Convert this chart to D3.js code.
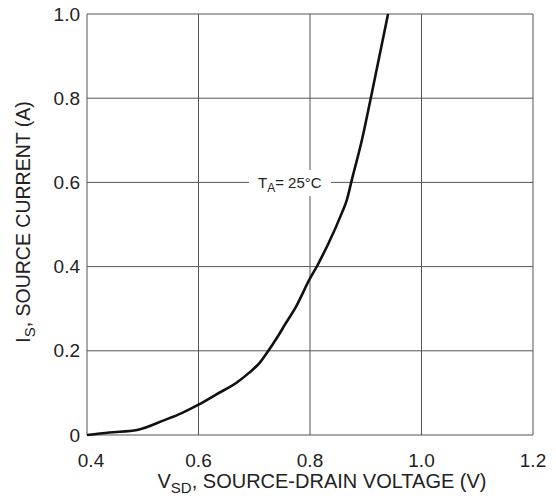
<!DOCTYPE html>
<html lang="en">
<head>
    <meta charset="utf-8">
    <script src="https://cdn.jsdelivr.net/npm/d3@7"></script>
    <style>
        body { margin: 0; background: #fff; }
        text { font-family: "Liberation Sans", Arial, sans-serif; fill: #222; }
        .grid line { stroke: #555; stroke-width: 1; }
        .curve { fill: none; stroke: #111; stroke-width: 2.6; }
    </style>
</head>
<body>
<script>
    // values
    let vsd = [0.4, 0.44, 0.49, 0.54, 0.57, 0.6, 0.63, 0.67, 0.69, 0.71, 0.72, 0.745, 0.755,
        0.775, 0.8, 0.813, 0.823, 0.832, 0.857, 0.866, 0.875, 0.893, 0.909, 0.94];
    let isrc = [0, 0.006, 0.012, 0.036, 0.052, 0.072, 0.095, 0.126, 0.147, 0.172, 0.19, 0.24, 0.262,
        0.305, 0.372, 0.402, 0.428, 0.452, 0.527, 0.558, 0.606, 0.70, 0.80, 1.0];
    let xTicks = [0.4, 0.6, 0.8, 1.0, 1.2];
    let yTicks = [0, 0.2, 0.4, 0.6, 0.8, 1.0];

    let pLeft = 87, pRight = 533, pTop = 14, pBottom = 435;

    let svg = d3.select("body").append("svg")
        .attr("width", 556).attr("height", 498);

    let x = d3.scaleLinear().domain([0.4, 1.2]).range([pLeft, pRight]);
    let y = d3.scaleLinear().domain([0, 1.0]).range([pBottom, pTop]);

    let grid = svg.append("g").attr("class", "grid");
    grid.selectAll(".gx").data(xTicks).enter().append("line")
        .attr("x1", d => x(d)).attr("x2", d => x(d))
        .attr("y1", pTop).attr("y2", pBottom);
    grid.selectAll(".gy").data(yTicks).enter().append("line")
        .attr("x1", pLeft).attr("x2", pRight)
        .attr("y1", d => y(d)).attr("y2", d => y(d));

    // tick labels
    svg.append("g").selectAll("text").data(yTicks).enter().append("text")
        .attr("x", pLeft - 7).attr("y", d => y(d)).attr("dy", "0.35em")
        .attr("text-anchor", "end").style("font-size", "19px")
        .text(d => d === 0 ? "0" : d3.format(".1f")(d));

    svg.append("g").selectAll("text").data(xTicks).enter().append("text")
        .attr("x", d => x(d) + (d === 0.4 ? 4 : 0)).attr("y", 467)
        .attr("text-anchor", "middle").style("font-size", "19px")
        .text(d => d3.format(".1f")(d));

    // annotation with white backing that breaks the grid
    svg.append("rect").attr("x", 249).attr("y", 170).attr("width", 82).attr("height", 26)
        .attr("fill", "#fff");
    let ann = svg.append("text").attr("x", 258).attr("y", 188).style("font-size", "15px");
    ann.append("tspan").text("T");
    ann.append("tspan").attr("dy", 4).style("font-size", "12px").text("A");
    ann.append("tspan").attr("dy", -4).text("= 25°C");

    // curve
    let pts = vsd.map((v, i) => [v, isrc[i]]);
    svg.append("path").datum(pts).attr("class", "curve")
        .attr("d", d3.line().x(d => x(d[0])).y(d => y(d[1])).curve(d3.curveMonotoneX));

    // axis titles
    let xt = svg.append("text").attr("x", 322).attr("y", 488)
        .attr("text-anchor", "middle").style("font-size", "20px");
    xt.append("tspan").text("V");
    xt.append("tspan").attr("dy", 5).style("font-size", "15px").text("SD");
    xt.append("tspan").attr("dy", -5).text(", SOURCE-DRAIN VOLTAGE (V)");

    let yt = svg.append("text").attr("transform", "translate(30,222) rotate(-90)")
        .attr("text-anchor", "middle").style("font-size", "19.5px");
    yt.append("tspan").text("I");
    yt.append("tspan").attr("dy", 5).style("font-size", "15px").text("S");
    yt.append("tspan").attr("dy", -5).text(", SOURCE CURRENT (A)");
</script>
</body>
</html>
